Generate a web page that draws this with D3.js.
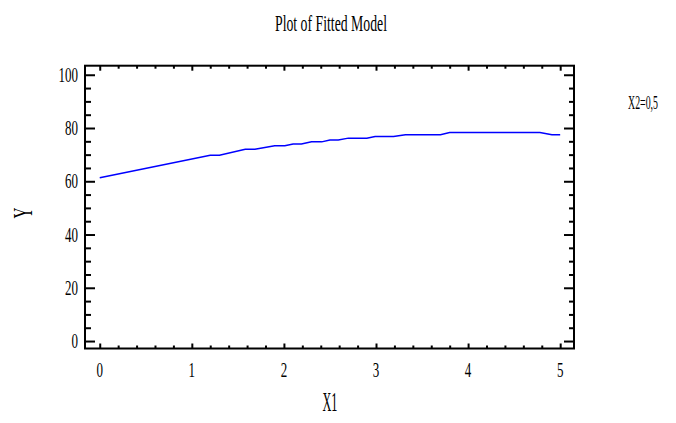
<!DOCTYPE html>
<html>
<head>
<meta charset="utf-8">
<script src="https://cdn.jsdelivr.net/npm/d3@7"></script>
<style>
  html, body { margin: 0; padding: 0; background: #fff; }
  svg { display: block; }
  text { font-family: "Liberation Serif", "DejaVu Serif", serif; fill: #000; }
</style>
</head>
<body>
<svg id="chart" width="676" height="423"></svg>
<script>
// ---- data ----
const titleText = "Plot of Fitted Model";
const xLabel = "X1";
const yLabel = "Y";
const noteText = "X2=0,5";
const x1Values = [0, 1.2, 1.3, 1.58, 1.685, 1.9, 2.01, 2.10, 2.19, 2.30, 2.41, 2.50, 2.59, 2.70, 2.90, 2.99, 3.19, 3.32, 3.70, 3.80, 4.78, 4.91, 5.0];
const yValues  = [61.3, 69.8, 69.8, 72.0, 72.0, 73.3, 73.3, 74.0, 74.0, 74.8, 74.8, 75.5, 75.5, 76.2, 76.2, 76.8, 76.8, 77.5, 77.5, 78.3, 78.3, 77.5, 77.5];
const xTicks = [0, 1, 2, 3, 4, 5];
const yTicks = [0, 20, 40, 60, 80, 100];

// ---- layout ----
const svg = d3.select("#chart");
const L = 85, R = 574, T = 65.7, B = 348.5;
const x = d3.scaleLinear().domain([-0.16, 5.15]).range([L, R]);
const y = d3.scaleLinear().domain([-2.8, 103.4]).range([B, T]);

const xMinor = d3.range(0, 25.5, 1).map(i => i * 0.2).filter(v => Math.abs(v - Math.round(v)) > 1e-6);
const yMinor = d3.range(0, 21, 1).map(i => i * 5).filter(v => v % 20 !== 0);

function condensed(sel, perChar) {
  sel.attr("lengthAdjust", "spacingAndGlyphs")
     .attr("textLength", d => String(d).length * perChar);
}

// bottom axis (ticks inward)
const gB = svg.append("g").attr("transform", `translate(0,${B})`);
gB.call(d3.axisBottom(x).tickValues(xTicks).tickSize(-5).tickPadding(0).tickFormat(""));
gB.append("g").call(d3.axisBottom(x).tickValues(xMinor).tickSize(-3).tickFormat(""));
// top axis
const gT = svg.append("g").attr("transform", `translate(0,${T})`);
gT.call(d3.axisTop(x).tickValues(xTicks).tickSize(-5).tickFormat(""));
gT.append("g").call(d3.axisTop(x).tickValues(xMinor).tickSize(-3).tickFormat(""));
// left axis
const gL = svg.append("g").attr("transform", `translate(${L},0)`);
gL.call(d3.axisLeft(y).tickValues(yTicks).tickSize(-10).tickFormat(""));
gL.append("g").call(d3.axisLeft(y).tickValues(yMinor).tickSize(-6).tickFormat(""));
// right axis
const gR = svg.append("g").attr("transform", `translate(${R},0)`);
gR.call(d3.axisRight(y).tickValues(yTicks).tickSize(-10).tickFormat(""));
gR.append("g").call(d3.axisRight(y).tickValues(yMinor).tickSize(-5).tickFormat(""));

svg.selectAll(".domain").remove();
svg.selectAll(".tick line").attr("stroke", "#000").attr("stroke-width", 2);

// frame
svg.append("rect").attr("x", L).attr("y", T).attr("width", R - L).attr("height", B - T)
  .attr("fill", "none").attr("stroke", "#000").attr("stroke-width", 2);

// tick labels
svg.append("g").selectAll("text").data(xTicks).join("text")
  .attr("x", d => x(d)).attr("y", 377)
  .attr("text-anchor", "middle").attr("font-size", 21)
  .text(d => d).call(condensed, 6.5);

svg.append("g").selectAll("text").data(yTicks).join("text")
  .attr("x", 78).attr("y", d => y(d) + 7)
  .attr("text-anchor", "end").attr("font-size", 21)
  .text(d => d).call(condensed, 6.5);

// fitted line
const line = d3.line().x((d, i) => x(x1Values[i])).y((d, i) => y(yValues[i]));
svg.append("path").datum(yValues).attr("d", line)
  .attr("fill", "none").attr("stroke", "#0000ff").attr("stroke-width", 1.5);

// title
svg.append("text").attr("x", 331).attr("y", 31).attr("text-anchor", "middle")
  .attr("font-size", 24).attr("lengthAdjust", "spacingAndGlyphs").attr("textLength", 112)
  .text(titleText);

// axis labels
svg.append("text").attr("x", 330).attr("y", 411).attr("text-anchor", "middle")
  .attr("font-size", 27).attr("lengthAdjust", "spacingAndGlyphs").attr("textLength", 15)
  .text(xLabel);

svg.append("text").attr("transform", "translate(32,213) rotate(-90)").attr("text-anchor", "middle")
  .attr("font-size", 27).attr("lengthAdjust", "spacingAndGlyphs").attr("textLength", 11)
  .text(yLabel);

// note
svg.append("text").attr("x", 628).attr("y", 109).attr("text-anchor", "start")
  .attr("font-size", 18).attr("lengthAdjust", "spacingAndGlyphs").attr("textLength", 30)
  .text(noteText);
</script>
</body>
</html>
